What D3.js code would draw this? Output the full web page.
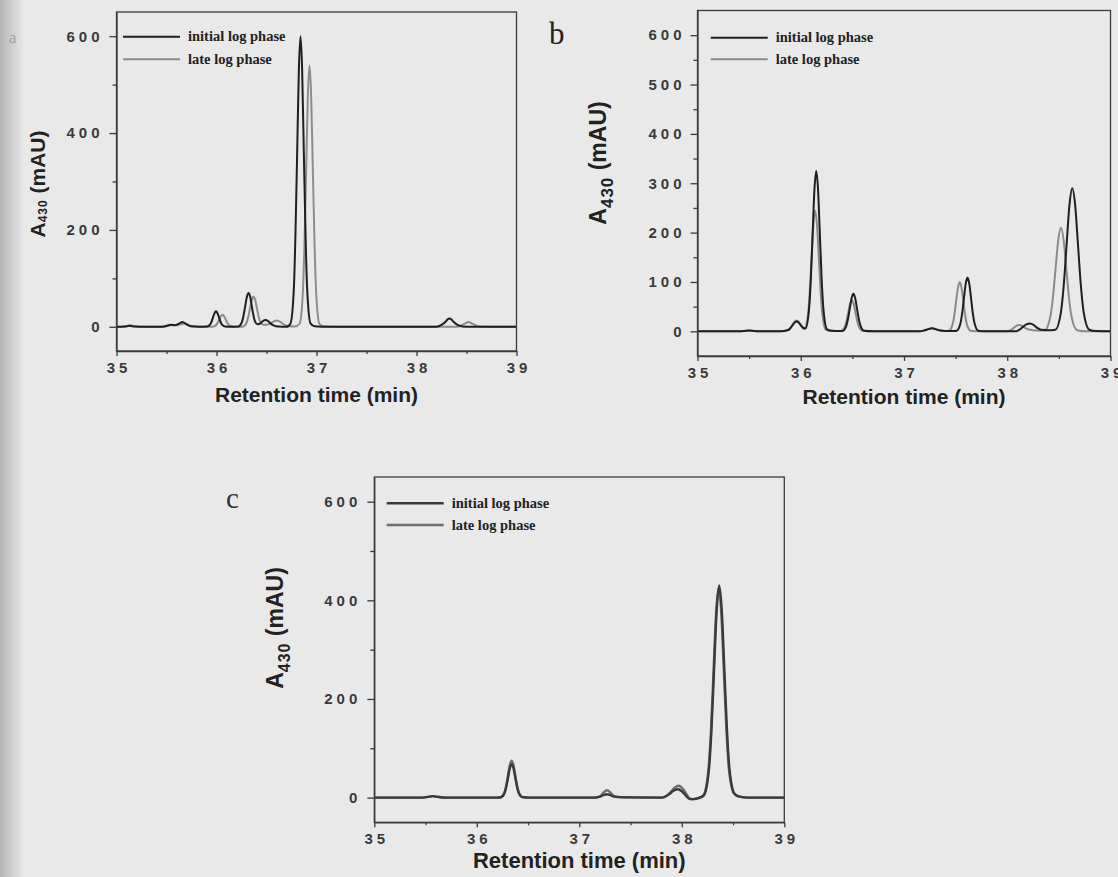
<!DOCTYPE html>
<html>
<head>
<meta charset="utf-8">
<script src="https://cdn.jsdelivr.net/npm/d3@7"></script>
<style>
  html, body { margin: 0; padding: 0; background: #e9e9e9; }
  svg { display: block; }
  .tick text { font-family: "Liberation Sans", Arial, sans-serif; font-weight: bold; font-size: 15px; fill: #3a3a3a; letter-spacing: 4px; }
  .axis path, .axis line { stroke: #3a3a3a; stroke-width: 1.3; }
  .legend text { font-family: "Liberation Serif", "Times New Roman", serif; font-weight: bold; font-size: 14.5px; fill: #222; }
  .title { font-family: "Liberation Sans", Arial, sans-serif; font-weight: bold; fill: #222; }
</style>
</head>
<body>
<div id="chart"></div>
<script>
// ---- data ----
var seriesNames = ["initial log phase", "late log phase"];
var xTicks = [35, 36, 37, 38, 39];
var xMinor = [35.5, 36.5, 37.5, 38.5];
var yTicksA = [0, 200, 400, 600];
var yMinorA = [100, 300, 500];
var yTicksB = [0, 100, 200, 300, 400, 500, 600];
var yMinorB = [50, 150, 250, 350, 450, 550];
var yTicksC = [0, 200, 400, 600];
var yMinorC = [100, 300, 500];

// panel a  [retention time (min), A430 (mAU)]
var aInitial = [[35.00,0],[35.08,0.5],[35.13,2],[35.18,0.5],[35.30,0],[35.46,0],[35.51,2.5],[35.54,4],[35.58,3],[35.62,6],[35.66,10],[35.70,5],[35.74,1],[35.82,0],
  [35.905,0.4],[35.935,4.3],[35.95,10.4],[35.965,19.4],[35.98,28],[35.995,32],[36.01,28],[36.025,19.4],[36.04,10.4],[36.055,4.3],[36.085,0.6],[36.15,0],
  [36.22,0.8],[36.254,9.5],[36.27,22.7],[36.287,42.5],[36.304,62],[36.32,70],[36.337,62],[36.353,42.5],[36.37,22.7],[36.386,10.5],[36.41,5],
  [36.44,7],[36.465,12],[36.49,14],[36.515,12],[36.54,7],[36.57,3],[36.62,0.5],[36.70,0],
  [36.74,7],[36.774,81],[36.79,195],[36.807,364],[36.8235,530],[36.84,600],[36.8565,530],[36.873,364],[36.89,195],[36.906,81],[36.94,7],[36.98,1],[37.05,0],
  [38.20,0],[38.25,4],[38.29,10.3],[38.31,15],[38.33,17],[38.35,15],[38.37,10.3],[38.41,4],[38.46,0.5],[38.55,0],[39.00,0]];
var aLate = [[35.00,0],[35.08,0.5],[35.14,3],[35.20,0.5],[35.30,0],[35.48,0],[35.52,2.5],[35.56,4],[35.60,3],[35.64,5],[35.68,7],[35.72,4],[35.76,1],[35.84,0],
  [35.96,0.3],[35.996,3.4],[36.012,8.1],[36.028,15.2],[36.044,22],[36.06,25],[36.076,22],[36.092,15.2],[36.108,8.1],[36.124,3.4],[36.16,0.5],[36.22,0],
  [36.265,0.7],[36.30,8.4],[36.3175,20],[36.335,37.6],[36.3525,55],[36.37,62],[36.3875,55],[36.405,37.6],[36.4225,20],[36.44,9],[36.47,4],
  [36.52,5],[36.56,9.5],[36.60,13],[36.64,9.5],[36.68,4],[36.72,1.5],[36.78,0.5],
  [36.83,6],[36.864,73],[36.88,175],[36.897,328],[36.9135,477],[36.93,540],[36.9465,477],[36.963,328],[36.98,175],[36.996,73],[37.03,6],[37.07,1],[37.15,0],
  [38.40,0],[38.44,2.5],[38.48,6],[38.52,10],[38.56,6],[38.60,2.5],[38.66,0],[39.00,0]];

// panel b
var bInitial = [[35.00,0],[35.40,0],[35.50,1.5],[35.60,0],[35.80,0],[35.88,2.7],[35.90,6.5],[35.92,12],[35.94,17.6],[35.96,20],[35.98,17.6],[36.00,12.2],[36.02,7.5],[36.045,5.5],
  [36.08,44],[36.0975,105.5],[36.115,197],[36.1325,287],[36.15,325],[36.1675,287],[36.185,197],[36.2025,105.5],[36.22,44],[36.255,4],[36.30,1],[36.37,0.5],
  [36.405,0.8],[36.44,10.3],[36.4575,24.7],[36.475,46],[36.4925,67],[36.51,76],[36.5275,67],[36.545,46],[36.5625,24.7],[36.58,10.3],[36.615,1],[36.70,0],
  [37.15,0],[37.20,2],[37.235,4.5],[37.27,6],[37.305,4.5],[37.34,2],[37.40,0.5],[37.48,0.5],
  [37.51,1.2],[37.545,14.8],[37.5625,35.4],[37.58,66],[37.5975,96],[37.615,109],[37.6325,96],[37.65,66],[37.6675,35.4],[37.685,14.8],[37.72,1.2],[37.80,0],
  [38.08,0],[38.12,3.5],[38.15,8.5],[38.185,14],[38.22,16],[38.255,13],[38.29,7],[38.33,3],[38.40,2],
  [38.465,3.2],[38.52,39],[38.5475,94],[38.575,176],[38.6025,256],[38.63,290],[38.6575,256],[38.685,176],[38.7125,94],[38.74,39],[38.795,3.2],[38.86,0.5],[39.00,0]];
var bLate = [[35.00,0],[35.40,0],[35.50,1.5],[35.60,0],[35.80,0],[35.88,3],[35.90,7.1],[35.92,13.3],[35.94,19.4],[35.96,22],[35.98,19.4],[36.00,13.5],[36.02,8],[36.035,6],
  [36.07,33],[36.0875,79.5],[36.105,149],[36.1225,216],[36.14,245],[36.1575,216],[36.175,149],[36.1925,79.5],[36.21,33],[36.245,3],[36.30,1],[36.37,0.5],
  [36.39,0.7],[36.425,8.5],[36.4425,20.5],[36.46,38.2],[36.4775,55.6],[36.495,63],[36.5125,55.6],[36.53,38.2],[36.5475,20.5],[36.565,8.5],[36.60,1],[36.70,0],
  [37.15,0],[37.20,2],[37.235,4.5],[37.27,6],[37.305,4.5],[37.34,2],[37.40,0.5],
  [37.435,1.1],[37.47,13.5],[37.4875,32.5],[37.505,61],[37.5225,88],[37.54,100],[37.5575,88],[37.575,61],[37.5925,32.5],[37.61,13.5],[37.645,1.1],[37.72,0],
  [38.00,0],[38.04,3.5],[38.075,9],[38.11,13],[38.145,11],[38.18,6],[38.22,3],[38.28,1.5],
  [38.364,2.3],[38.416,28.4],[38.442,68],[38.468,127],[38.494,185],[38.52,210],[38.546,185],[38.572,127],[38.598,68],[38.624,28.4],[38.676,2.3],[38.76,0],[39.00,0]];

// panel c
var cInitial = [[35.00,0],[35.45,0],[35.52,1.5],[35.57,3],[35.62,1.5],[35.70,0],[36.20,0],
  [36.235,0.75],[36.27,9.2],[36.2875,22],[36.305,41.2],[36.3225,60],[36.34,68],[36.3575,60],[36.375,41.2],[36.3925,22],[36.41,9.2],[36.445,1],[36.52,0],
  [37.15,0],[37.20,2],[37.235,5],[37.27,7],[37.305,5],[37.34,2],[37.42,0.5],
  [37.80,0],[37.84,2.3],[37.88,7.5],[37.92,14],[37.96,17],[38.00,13],[38.04,4],[38.07,-2],[38.11,-3],[38.165,-1],
  [38.215,4.7],[38.265,58],[38.29,140],[38.315,261],[38.34,379],[38.365,430],[38.39,379],[38.415,261],[38.44,140],[38.465,58],[38.515,8],[38.565,2],[38.65,0],[39.00,0]];
var cLate = [[35.00,0],[35.45,0],[35.52,1.5],[35.57,3],[35.62,1.5],[35.70,0],[36.20,0],
  [36.235,0.8],[36.27,10.2],[36.2875,24.4],[36.305,45.5],[36.3225,66],[36.34,75],[36.3575,66],[36.375,45.5],[36.3925,24.4],[36.41,10.2],[36.445,1],[36.52,0],
  [37.15,0],[37.20,2],[37.235,10],[37.27,15],[37.305,10],[37.34,3],[37.42,1],
  [37.80,0],[37.85,3.5],[37.89,11],[37.93,20],[37.97,24],[38.01,18],[38.05,6],[38.08,-3],[38.12,-3],[38.16,-0.5],
  [38.21,4.7],[38.26,57.4],[38.285,138],[38.31,258],[38.335,375],[38.36,425],[38.385,375],[38.41,258],[38.435,138],[38.46,57.4],[38.51,8],[38.56,2],[38.65,0],[39.00,0]];

// ---- layout ----
var W = 1118, H = 877;
var panels = [
  { key: "a", data: [aLate, aInitial], colors: ["#8c8c8c", "#1f1f1f"], widths: [2, 2],
    x0: 116.5, x1: 516.5, y0: 12, y1: 351, yTicks: yTicksA, yMinor: yMinorA, tickPad: 6,
    legX: 123, legRows: [36.7, 59.3], yTitle: [45, 184], yTitleSize: 21, subSize: 12, subShift: 2,
    xTitleY: 402, xTitleSize: 21, letter: { t: "a", x: 9, y: 43, size: 17, fill: "#a3a3a3" } },
  { key: "b", data: [bLate, bInitial], colors: ["#8a8a8a", "#1f1f1f"], widths: [2, 2],
    x0: 697.5, x1: 1110.5, y0: 10.5, y1: 356, yTicks: yTicksB, yMinor: yMinorB, tickPad: 5,
    legX: 710.7, legRows: [37.7, 59.3], yTitle: [606, 163], yTitleSize: 23, subSize: 17, subShift: 7,
    xTitleY: 404, xTitleSize: 21, letter: { t: "b", x: 549, y: 44, size: 31, fill: "#222" } },
  { key: "c", data: [cLate, cInitial], colors: ["#6e6e6e", "#3a3a3a"], widths: [2.4, 2.4],
    x0: 374.3, x1: 784.3, y0: 477, y1: 822.3, yTicks: yTicksC, yMinor: yMinorC, tickPad: 6,
    legX: 386.7, legRows: [503.3, 525], yTitle: [283, 628], yTitleSize: 23, subSize: 16, subShift: 7,
    xTitleY: 868, xTitleSize: 22, letter: { t: "c", x: 226, y: 508, size: 29, fill: "#333" } }
];

var svg = d3.select("#chart").append("svg")
  .attr("width", W)
  .attr("height", H);

// scanned page look: light grey paper, darker binding edge on the left
var defs = svg.append("defs");
var grad = defs.append("linearGradient").attr("id", "edge").attr("x1", 0).attr("x2", 1);
grad.append("stop").attr("offset", "0%").attr("stop-color", "#b4b4b4");
grad.append("stop").attr("offset", "100%").attr("stop-color", "#e9e9e9");
svg.append("rect").attr("width", W).attr("height", H).attr("fill", "#e9e9e9");
svg.append("rect").attr("width", 24).attr("height", H).attr("fill", "url(#edge)");

panels.forEach(function(p) {
  var x = d3.scaleLinear().domain([35, 39]).range([p.x0, p.x1]);
  var y = d3.scaleLinear().domain([-50, 650]).range([p.y1, p.y0]);
  var g = svg.append("g").attr("class", "panel-" + p.key);

  defs.append("clipPath").attr("id", "clip-" + p.key)
    .append("rect")
    .attr("x", p.x0).attr("y", p.y0)
    .attr("width", p.x1 - p.x0).attr("height", p.y1 - p.y0);

  // x axis, major + minor ticks
  g.append("g").attr("class", "axis")
    .attr("transform", "translate(0," + p.y1 + ")")
    .call(d3.axisBottom(x).tickValues(xTicks).tickSize(5).tickPadding(6).tickSizeOuter(0).tickFormat(d3.format("d")))
    .selectAll("text").attr("dx", "2px");
  g.append("g").attr("class", "axis")
    .attr("transform", "translate(0," + p.y1 + ")")
    .call(d3.axisBottom(x).tickValues(xMinor).tickSize(3).tickSizeOuter(0).tickFormat(""))
    .select(".domain").remove();

  // y axis
  g.append("g").attr("class", "axis")
    .attr("transform", "translate(" + p.x0 + ",0)")
    .call(d3.axisLeft(y).tickValues(p.yTicks).tickSize(7).tickPadding(p.tickPad).tickSizeOuter(0).tickFormat(d3.format("d")));
  g.append("g").attr("class", "axis")
    .attr("transform", "translate(" + p.x0 + ",0)")
    .call(d3.axisLeft(y).tickValues(p.yMinor).tickSize(4).tickSizeOuter(0).tickFormat(""))
    .select(".domain").remove();

  // box
  g.append("rect")
    .attr("x", p.x0).attr("y", p.y0)
    .attr("width", p.x1 - p.x0).attr("height", p.y1 - p.y0)
    .attr("fill", "none").attr("stroke", "#3a3a3a").attr("stroke-width", 1.3);

  // traces
  var line = d3.line()
    .x(function(d) { return x(d[0]); })
    .y(function(d) { return y(d[1]); })
    .curve(d3.curveMonotoneX);
  var traces = g.append("g").attr("clip-path", "url(#clip-" + p.key + ")");
  p.data.forEach(function(series, i) {
    traces.append("path")
      .datum(series)
      .attr("d", line)
      .attr("fill", "none")
      .attr("stroke", p.colors[i])
      .attr("stroke-width", p.widths[i])
      .attr("stroke-linejoin", "round");
  });

  // legend (initial first, late second)
  var leg = g.append("g").attr("class", "legend");
  seriesNames.forEach(function(name, i) {
    var ci = i === 0 ? 1 : 0;
    leg.append("line")
      .attr("x1", p.legX).attr("x2", p.legX + 57)
      .attr("y1", p.legRows[i]).attr("y2", p.legRows[i])
      .attr("stroke", p.colors[ci]).attr("stroke-width", p.widths[ci]);
    leg.append("text")
      .attr("x", p.legX + 65).attr("y", p.legRows[i] + 4.5)
      .text(name);
  });

  // axis titles
  g.append("text").attr("class", "title")
    .attr("x", (p.x0 + p.x1) / 2).attr("y", p.xTitleY)
    .attr("text-anchor", "middle")
    .style("font-size", p.xTitleSize + "px")
    .text("Retention time (min)");

  var yt = g.append("text").attr("class", "title")
    .attr("transform", "translate(" + p.yTitle[0] + "," + p.yTitle[1] + ") rotate(-90)")
    .attr("text-anchor", "middle")
    .style("font-size", p.yTitleSize + "px");
  yt.append("tspan").text("A");
  yt.append("tspan").attr("dy", p.subShift).style("font-size", p.subSize + "px").style("letter-spacing", "1px").text("430");
  yt.append("tspan").attr("dy", -p.subShift).text(" (mAU)");

  // panel letter
  g.append("text")
    .attr("x", p.letter.x).attr("y", p.letter.y)
    .style("font-family", "'Liberation Serif', 'Times New Roman', serif")
    .style("font-size", p.letter.size + "px")
    .attr("fill", p.letter.fill)
    .text(p.letter.t);
});
</script>
</body>
</html>
